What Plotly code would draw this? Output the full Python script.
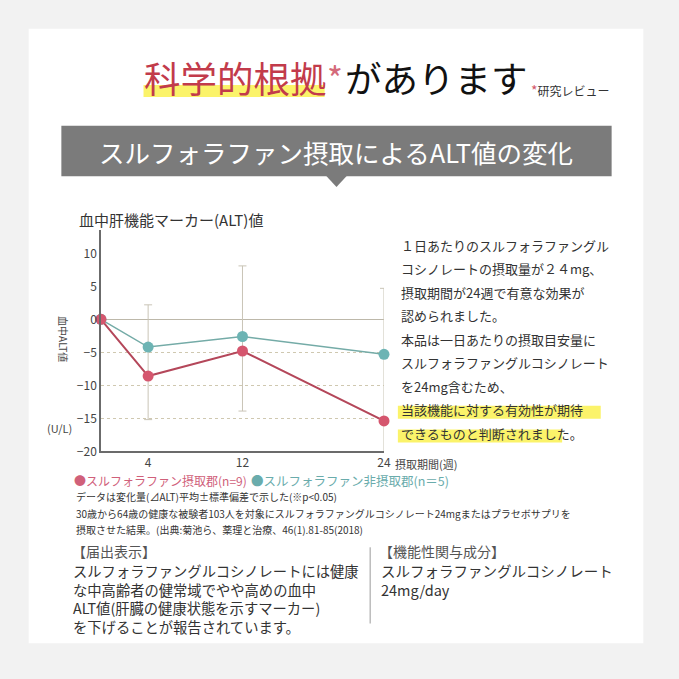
import plotly.graph_objects as go

# ---- data ----
weeks = [0, 4, 12, 24]
sulf_values = [0, -8.6, -4.8, -15.4]
ctrl_values = [0, -4.2, -2.6, -5.3]
err_weeks = [4, 12, 24]
err_upper = [2.2, 8.1, 4.7]
err_lower = [-15.2, -13.9, -20.5]
x_ticks = [4, 12, 24]
y_ticks = [-20, -15, -10, -5, 0, 5, 10]
dotted_ticks = [-15, -10, -5]

sulf_label = "●スルフォラファン摂取郡(n=9)"
ctrl_label = "●スルフォラファン非摂取郡(n＝5)"

right_lines = [
    "１日あたりのスルフォラファングル",
    "コシノレートの摂取量が２４mg、",
    "摂取期間が24週で有意な効果が",
    "認められました。",
    "本品は一日あたりの摂取目安量に",
    "スルフォラファングルコシノレート",
    "を24mg含むため、",
    "当該機能に対する有効性が期待",
    "できるものと判断されました。",
]
note_lines = [
    "データは変化量(⊿ALT)平均±標準偏差で示した(※p<0.05)",
    "30歳から64歳の健康な被験者103人を対象にスルフォラファングルコシノレート24mgまたはプラセボサプリを",
    "摂取させた結果。(出典:菊池ら、薬理と治療、46(1).81-85(2018)",
]
left_box = [
    "スルフォラファングルコシノレートには健康",
    "な中高齢者の健常域でやや高めの血中",
    "ALT値(肝臓の健康状態を示すマーカー)",
    "を下げることが報告されています。",
]
right_box = ["スルフォラファングルコシノレート", "24mg/day"]

W = H = 679
def px(x): return x / W
def py(y): return 1 - y / H

FONT = "Noto Sans CJK JP"
TXT = "#333333"

fig = go.Figure()

err_mid = [(u + l) / 2 for u, l in zip(err_upper, err_lower)]
err_half = [(u - l) / 2 for u, l in zip(err_upper, err_lower)]
fig.add_trace(go.Scatter(
    x=err_weeks, y=err_mid, mode="markers",
    marker=dict(size=1, opacity=0),
    error_y=dict(type="data", array=err_half, symmetric=True,
                 color="#c9c4b6", thickness=1, width=4),
    cliponaxis=False, hoverinfo="skip", showlegend=False))
fig.add_trace(go.Scatter(
    x=weeks, y=ctrl_values, mode="lines+markers",
    line=dict(color="#74aba7", width=1.5),
    marker=dict(color="#6db4b4", size=11),
    cliponaxis=False, showlegend=False))
fig.add_trace(go.Scatter(
    x=weeks, y=sulf_values, mode="lines+markers",
    line=dict(color="#b4475a", width=2),
    marker=dict(color="#d5566e", size=11),
    cliponaxis=False, showlegend=False))
# helper trace on overlay axis for dotted grid
fig.add_trace(go.Scatter(x=[0], y=[0], yaxis="y2", mode="markers",
                         marker=dict(opacity=0), hoverinfo="skip",
                         showlegend=False))

yr = [-20, 13.6]
fig.update_layout(
    width=W, height=H, margin=dict(l=0, r=0, t=0, b=0),
    paper_bgcolor="#f2f2f2", plot_bgcolor="#fcf8e6",
    font=dict(family=FONT, color=TXT),
    xaxis=dict(domain=[px(102), px(388)], range=[0, 24],
               tickvals=x_ticks, ticks="", showgrid=False, zeroline=False,
               showline=True, linecolor="#6b6b6b", linewidth=1.5,
               tickfont=dict(size=12, color="#444")),
    yaxis=dict(domain=[py(456), py(232)], range=yr, tickvals=y_ticks,
               ticks="", showgrid=False, zeroline=True, zerolinecolor="#bdb8aa",
               zerolinewidth=1, showline=True, linecolor="#6b6b6b", linewidth=1.5,
               tickfont=dict(size=12, color="#444")),
    yaxis2=dict(overlaying="y", range=yr, tickvals=dotted_ticks,
                showticklabels=False, ticks="", showgrid=True,
                gridcolor="#cfc8b0", griddash="dot", gridwidth=1,
                zeroline=False, showline=False),
)

shapes = []
# white card
shapes.append(dict(type="rect", xref="paper", yref="paper",
                   x0=px(29), x1=px(650), y0=py(650), y1=py(29),
                   fillcolor="white", line=dict(width=0), layer="below"))
# title highlight
shapes.append(dict(type="rect", xref="paper", yref="paper",
                   x0=px(145), x1=px(328), y0=py(98), y1=py(86),
                   fillcolor="#fbf36a", line=dict(width=0), layer="below"))
# banner
shapes.append(dict(type="rect", xref="paper", yref="paper",
                   x0=px(62), x1=px(618), y0=py(178), y1=py(127),
                   fillcolor="#7b7b7b", line=dict(width=0), layer="below"))
shapes.append(dict(type="path", xref="paper", yref="paper",
                   path=f"M {px(329)} {py(177)} L {px(351)} {py(177)} L {px(340)} {py(189)} Z",
                   fillcolor="#7b7b7b", line=dict(width=0), layer="below"))
# right text highlight
for yc, x1 in [(414, 607), (438, 568)]:
    shapes.append(dict(type="rect", xref="paper", yref="paper",
                       x0=px(402), x1=px(x1), y0=py(yc + 9), y1=py(yc - 4),
                       fillcolor="#fbf36a", line=dict(width=0), layer="below"))
# divider
shapes.append(dict(type="line", xref="paper", yref="paper",
                   x0=px(374), x1=px(374), y0=py(630), y1=py(553),
                   line=dict(color="#9a9a9a", width=1)))
fig.update_layout(shapes=shapes)

ann = []
def text(x, y, s, size, color=TXT, anchor="left", **kw):
    ann.append(dict(x=px(x), y=py(y), xref="paper", yref="paper", text=s,
                    showarrow=False, xanchor=anchor, yanchor="middle",
                    font=dict(family=FONT, size=size, color=color), **kw))

text(143, 78, "科学的根拠", 36.5, "#c23b4b")
text(328, 78, "*", 34, "#d46a7a")
text(347, 78, "があります", 36.5, "#111111")
text(535, 91, '<span style="color:#d2566a;font-size:14px">*</span>研究レビュー', 12, "#333")
text(340, 153, "スルフォラファン摂取によるALT値の変化", 25.5, "white", anchor="center")
text(78, 222, "血中肝機能マーカー(ALT)値", 15, "#333")
text(64, 343, "血中ALT値", 10, "#444", anchor="center", textangle=90)
text(60, 432, "(U/L)", 11, "#444", anchor="center")
text(397, 469, "摂取期間(週)", 11, "#444")

for i, s in enumerate(right_lines):
    text(403, 248 + i * 23.7, s, 13, "#333")

text(73, 486, sulf_label, 12, "#d0607a")
text(252, 486, ctrl_label, 12.5, "#6aacac")
for i, s in enumerate(note_lines):
    text(75, 502 + i * 16.5, s, 10, "#333")

text(71, 557, "【届出表示】", 14, "#555")
text(72, 604.5, "<br>".join(left_box), 14.3, "#333", align="left")
text(381, 557, "【機能性関与成分】", 14, "#555")
text(383, 586.5, "<br>".join(right_box), 14.5, "#333", align="left")

fig.update_layout(annotations=ann)
fig.write_html("out.html")
